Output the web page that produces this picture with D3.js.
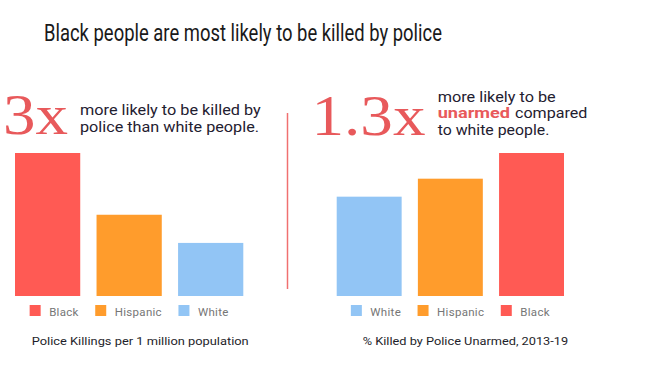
<!DOCTYPE html>
<html><head><meta charset="utf-8">
<script src="https://cdn.jsdelivr.net/npm/d3@7"></script>
<style>body{margin:0;background:#fff;} svg{display:block;font-family:Roboto, "Noto Sans", sans-serif;}</style>
</head><body>
<svg id="c" width="660" height="383"></svg>
<script>
const title = "Black people are most likely to be killed by police";
const leftCategories = ["Black", "Hispanic", "White"];
const leftValues = [6.6, 3.75, 2.45];
const leftCaption = "Police Killings per 1 million population";
const leftBig = "3x";
const leftNote = ["more likely to be killed by", "police than white people."];

const rightCategories = ["White", "Hispanic", "Black"];
const rightValues = [11.6, 13.7, 16.7];
const rightCaption = "% Killed by Police Unarmed, 2013-19";
const rightBig = "1.3x";

const colors = {Black: "#ff5a54", Hispanic: "#ff9c2c", White: "#92c5f5"};
const accent = "#e8595b";

const svg = d3.select("#c");

svg.append("text").attr("x", 44).attr("y", 41)
  .attr("font-size", 23).attr("fill", "#1a1a1a").text(title)
  .attr("textLength", 398).attr("lengthAdjust", "spacingAndGlyphs");

function panel(cats, vals, x0, x1, caption, captionX, captionLen) {
  const x = d3.scaleBand().domain(cats).range([x0, x1]).paddingInner(0.2).paddingOuter(0);
  const y = d3.scaleLinear().domain([0, d3.max(vals)]).range([296, 153]);
  const g = svg.append("g");
  g.selectAll("rect.bar").data(cats).join("rect").attr("class", "bar")
    .attr("x", d => x(d)).attr("width", x.bandwidth())
    .attr("y", (d, i) => y(vals[i])).attr("height", (d, i) => y(0) - y(vals[i]))
    .attr("fill", d => colors[d]);
  const lg = g.append("g");
  let cx = 0;
  cats.forEach((c, i) => {
    const it = lg.append("g").attr("transform", `translate(${cx},0)`);
    it.append("rect").attr("x", 0).attr("y", 305).attr("width", 11).attr("height", 11).attr("fill", colors[c]);
    const t = it.append("text").attr("x", 19.5).attr("y", 316).attr("font-size", 11.5)
      .attr("fill", "#767676").attr("letter-spacing", 0.3).text(c);
    cx += 19.5 + t.node().getComputedTextLength() + 16.5;
  });
  const lw = cx - 16.5;
  lg.attr("transform", `translate(${(x0 + x1) / 2 - lw / 2},0)`);
  g.append("text").attr("x", captionX).attr("y", 345).attr("font-size", 11.2)
    .attr("fill", "#1e1e2a").text(caption)
    .attr("textLength", captionLen).attr("lengthAdjust", "spacingAndGlyphs");
}

panel(leftCategories, leftValues, 15, 243.3, leftCaption, 31.7, 217);
panel(rightCategories, rightValues, 336.7, 564, rightCaption, 362.7, 205.5);

svg.append("line").attr("x1", 287.5).attr("x2", 287.5).attr("y1", 113).attr("y2", 289)
  .attr("stroke", "#f07070").attr("stroke-width", 1.5);

svg.append("text").attr("x", 3).attr("y", 133.5).attr("font-family", "'Liberation Serif', serif")
  .attr("font-size", 56).attr("fill", accent).text(leftBig)
  .attr("textLength", 65).attr("lengthAdjust", "spacingAndGlyphs");
svg.append("text").attr("x", 311.5).attr("y", 134.5).attr("font-family", "'Liberation Serif', serif")
  .attr("font-size", 56).attr("fill", accent).text(rightBig)
  .attr("textLength", 114).attr("lengthAdjust", "spacingAndGlyphs");

function note(x, y, s, len, opts) {
  const t = svg.append("text").attr("x", x).attr("y", y).attr("font-size", 14.5)
    .attr("fill", (opts && opts.fill) || "#1f2030").text(s)
    .attr("textLength", len).attr("lengthAdjust", "spacingAndGlyphs");
  if (opts && opts.bold) t.attr("font-weight", "bold");
}
note(80, 115, leftNote[0], 180.7);
note(80, 131.7, leftNote[1], 179);
note(437.7, 101.7, "more likely to be", 118);
note(437.7, 118.3, "unarmed", 72.3, {fill: accent, bold: true});
note(515, 118.3, "compared", 72.3);
note(437.7, 134.6, "to white people.", 111.7);
</script>
</body></html>
